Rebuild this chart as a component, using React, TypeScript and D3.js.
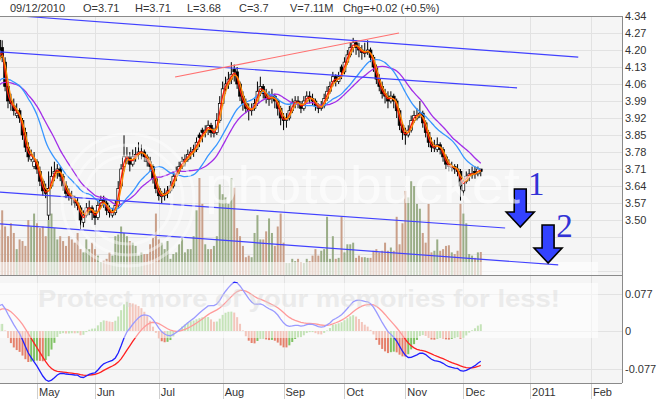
import React, { useEffect, useRef } from 'react';
import * as d3 from 'd3';

// daily sessions 14 Apr 2010 .. 9 Dec 2010, prices
const priorCloses = [3.84, 3.85, 3.83, 3.86, 3.87, 3.86, 3.88, 3.89, 3.88, 3.9, 3.91, 3.9, 3.92, 3.93, 3.92, 3.94, 3.95, 3.96, 3.95, 3.97,
  3.98, 4.0, 4.01, 3.99, 4.02, 4.03, 4.01, 4.04, 4.05, 4.03, 4.06, 4.05, 4.04, 4.07, 4.06, 4.08, 4.05, 4.07, 4.1, 4.16];

const opens = [4.24, 4.21, 4.15, 4.05, 3.99, 3.97, 3.93, 3.95, 3.91, 3.86,
  3.8, 3.75, 3.72, 3.74, 3.7, 3.66, 3.63, 3.52, 3.64, 3.69,
  3.7, 3.71, 3.68, 3.64, 3.61, 3.6, 3.58, 3.57, 3.55, 3.49,
  3.52, 3.55, 3.55, 3.53, 3.51, 3.56, 3.58, 3.57, 3.54, 3.52,
  3.53, 3.56, 3.64, 3.72, 3.76, 3.76, 3.73, 3.76, 3.77, 3.78,
  3.78, 3.76, 3.74, 3.72, 3.67, 3.63, 3.6, 3.6, 3.61, 3.62,
  3.64, 3.68, 3.7, 3.72, 3.74, 3.75, 3.77, 3.78, 3.79, 3.85,
  3.87, 3.86, 3.87, 3.89, 3.86, 3.86, 3.91, 3.98, 4.04, 4.06,
  4.08, 4.12, 4.11, 4.06, 4.01, 3.98, 3.96, 3.95, 3.96, 3.98,
  4.03, 4.05, 4.02, 4.0, 4.0, 4.01, 3.99, 3.96, 3.92, 3.91,
  3.92, 3.95, 3.98, 3.99, 3.98, 3.96, 3.99, 4.01, 4.0, 3.99,
  3.97, 3.96, 3.97, 4.0, 4.03, 4.07, 4.09, 4.07, 4.13, 4.11,
  4.15, 4.18, 4.21, 4.23, 4.21, 4.2, 4.19, 4.19, 4.2, 4.17,
  4.13, 4.08, 4.05, 4.02, 4.01, 3.99, 4.01, 3.99, 3.95, 3.89,
  3.86, 3.85, 3.87, 3.91, 3.92, 3.93, 3.94, 3.9, 3.86, 3.82,
  3.8, 3.79, 3.81, 3.79, 3.76, 3.73, 3.72, 3.72, 3.71, 3.7,
  3.62, 3.66, 3.68, 3.69, 3.7, 3.69, 3.71];

const highs = [4.26, 4.24, 4.17, 4.07, 4.02, 4.0, 3.98, 3.96, 3.92, 3.88,
  3.82, 3.79, 3.78, 3.75, 3.72, 3.67, 3.65, 3.7, 3.72, 3.74,
  3.73, 3.72, 3.69, 3.66, 3.63, 3.62, 3.6, 3.59, 3.56, 3.54,
  3.57, 3.58, 3.56, 3.54, 3.58, 3.6, 3.6, 3.58, 3.56, 3.55,
  3.58, 3.66, 3.73, 3.85, 3.8, 3.78, 3.79, 3.8, 3.82, 3.81,
  3.79, 3.77, 3.76, 3.73, 3.68, 3.64, 3.62, 3.63, 3.64, 3.66,
  3.7, 3.72, 3.74, 3.76, 3.77, 3.79, 3.8, 3.81, 3.84, 3.86,
  3.88, 3.89, 3.91, 3.9, 3.88, 3.94, 4.01, 4.07, 4.09, 4.11,
  4.15, 4.14, 4.13, 4.07, 4.03, 4.0, 3.98, 3.98, 4.0, 4.07,
  4.09, 4.06, 4.04, 4.03, 4.04, 4.02, 4.0, 3.97, 3.94, 3.94,
  3.97, 4.0, 4.01, 4.01, 3.99, 4.01, 4.03, 4.03, 4.02, 4.0,
  3.98, 3.99, 4.02, 4.05, 4.07, 4.11, 4.1, 4.11, 4.14, 4.17,
  4.2, 4.23, 4.25, 4.24, 4.23, 4.22, 4.23, 4.24, 4.21, 4.18,
  4.14, 4.1, 4.07, 4.04, 4.03, 4.03, 4.02, 4.0, 3.96, 3.9,
  3.88, 3.89, 3.93, 3.95, 3.96, 3.99, 3.95, 3.91, 3.87, 3.84,
  3.83, 3.84, 3.82, 3.8, 3.77, 3.75, 3.74, 3.73, 3.73, 3.71,
  3.67, 3.7, 3.71, 3.72, 3.72, 3.72, 3.71];

const lows = [4.14, 4.15, 4.03, 3.96, 3.95, 3.93, 3.92, 3.9, 3.83, 3.78,
  3.74, 3.74, 3.71, 3.69, 3.64, 3.6, 3.59, 3.5, 3.63, 3.66,
  3.67, 3.66, 3.62, 3.59, 3.58, 3.56, 3.55, 3.54, 3.46, 3.47,
  3.51, 3.52, 3.5, 3.48, 3.5, 3.55, 3.55, 3.52, 3.51, 3.51,
  3.52, 3.55, 3.63, 3.7, 3.73, 3.7, 3.72, 3.74, 3.75, 3.75,
  3.74, 3.72, 3.7, 3.65, 3.61, 3.58, 3.57, 3.58, 3.59, 3.61,
  3.63, 3.66, 3.69, 3.71, 3.72, 3.74, 3.75, 3.76, 3.78, 3.8,
  3.82, 3.84, 3.85, 3.84, 3.84, 3.85, 3.9, 3.97, 4.02, 4.04,
  4.06, 4.07, 4.04, 3.99, 3.95, 3.94, 3.91, 3.93, 3.95, 3.97,
  4.01, 4.0, 3.98, 3.97, 3.98, 3.96, 3.93, 3.89, 3.87, 3.88,
  3.91, 3.94, 3.96, 3.96, 3.94, 3.95, 3.98, 3.98, 3.97, 3.95,
  3.94, 3.95, 3.96, 3.99, 4.02, 4.05, 4.05, 4.06, 4.08, 4.1,
  4.14, 4.17, 4.19, 4.18, 4.17, 4.16, 4.17, 4.18, 4.15, 4.11,
  4.06, 4.03, 4.0, 3.98, 3.96, 3.98, 3.96, 3.92, 3.87, 3.83,
  3.81, 3.84, 3.86, 3.9, 3.91, 3.92, 3.88, 3.84, 3.8, 3.78,
  3.78, 3.78, 3.77, 3.74, 3.71, 3.7, 3.7, 3.69, 3.68, 3.58,
  3.6, 3.65, 3.66, 3.67, 3.67, 3.68, 3.68];

const closes = [4.2, 4.17, 4.05, 3.99, 3.98, 3.95, 3.94, 3.92, 3.85, 3.8,
  3.76, 3.77, 3.74, 3.71, 3.66, 3.62, 3.61, 3.63, 3.68, 3.7,
  3.71, 3.68, 3.64, 3.61, 3.6, 3.59, 3.57, 3.56, 3.5, 3.52,
  3.55, 3.55, 3.53, 3.51, 3.56, 3.58, 3.57, 3.54, 3.53, 3.53,
  3.56, 3.63, 3.71, 3.76, 3.76, 3.73, 3.76, 3.77, 3.78, 3.78,
  3.76, 3.74, 3.72, 3.67, 3.63, 3.6, 3.6, 3.61, 3.62, 3.64,
  3.68, 3.7, 3.72, 3.74, 3.75, 3.77, 3.78, 3.79, 3.82, 3.84,
  3.86, 3.87, 3.89, 3.86, 3.86, 3.91, 3.98, 4.04, 4.06, 4.08,
  4.1, 4.11, 4.06, 4.01, 3.98, 3.96, 3.95, 3.96, 3.98, 4.03,
  4.05, 4.02, 4.0, 4.0, 4.01, 3.99, 3.96, 3.92, 3.91, 3.92,
  3.95, 3.98, 3.99, 3.98, 3.96, 3.99, 4.01, 4.0, 3.99, 3.97,
  3.96, 3.97, 4.0, 4.03, 4.05, 4.09, 4.07, 4.09, 4.11, 4.15,
  4.18, 4.21, 4.23, 4.21, 4.2, 4.19, 4.19, 4.2, 4.17, 4.13,
  4.08, 4.05, 4.02, 4.01, 3.99, 4.01, 3.99, 3.95, 3.89, 3.86,
  3.85, 3.87, 3.91, 3.93, 3.93, 3.94, 3.9, 3.86, 3.82, 3.8,
  3.8, 3.81, 3.79, 3.76, 3.73, 3.72, 3.72, 3.71, 3.7, 3.64,
  3.66, 3.68, 3.69, 3.69, 3.69, 3.71, 3.7];

// millions of shares
const volumes = [14, 20, 15, 12, 16, 13, 8, 11, 10.5, 9, 17, 15, 19, 16, 14.5, 15, 12, 17, 19, 14.5, 11, 12, 10.5, 9, 12, 11, 10, 13,
  8, 7, 11, 8, 10, 8, 6, 4, 4.5, 5, 7, 6, 12, 12.5, 15, 13, 12, 10.5, 10, 9, 6, 7, 6.5, 6.5, 9.5, 11.5, 19, 11, 10, 8,
  10.5, 5, 6.5, 7, 9.5, 11.5, 7, 8, 8, 12, 20, 30, 22, 9.5, 8, 8, 9, 12, 28, 25, 24, 22, 30, 27, 14.5, 12, 9, 5.5,
  6, 5.5, 13, 18.5, 11, 11, 13.5, 17.5, 13, 9, 15, 19, 10, 3.7, 3.7, 5, 4.3, 5, 4, 3.7, 5, 4.3, 6, 8, 6, 7.5, 8, 18, 5,
  12, 5, 5.3, 18, 7, 9.5, 9.5, 10, 5.3, 6, 5.5, 5.5, 5.3, 5.3, 7.5, 8, 7, 7.5, 10, 7.5, 8.5, 7.5, 18,
  9.5, 16, 26, 24, 29, 27.5, 22, 20.5, 13, 10, 22, 7, 7.5, 11, 7.5, 8, 9, 9.2, 7, 6.5, 7.5, 22, 19, 16, 6.5, 6, 5.3, 7, 7.11];

const priceTicks = [4.34, 4.27, 4.2, 4.13, 4.06, 3.99, 3.92, 3.85, 3.78, 3.71, 3.64, 3.57, 3.5];
const extraGrid = [3.43, 3.36, 3.29];
const macdTicks = [0.077, 0, -0.077];
const monthLabels = ['May', 'Jun', 'Jul', 'Aug', 'Sep', 'Oct', 'Nov', 'Dec', '2011', 'Feb'];
const monthStarts = [13, 33, 55, 77, 98, 119, 140, 160, 183, 204]; // session index of 1st trading day
const headerItems = ['09/12/2010', 'O=3.71', 'H=3.71', 'L=3.68', 'C=3.7', 'V=7.11M', 'Chg=+0.02 (+0.5%)'];

// hand drawn annotations, in (session index, price)
const channelLines = [[7.1, 4.34, 199.6, 4.171], [0.2, 4.192, 178.5, 4.044], [0.2, 3.615, 174.4, 3.467], [0.2, 3.484, 192.7, 3.315]];
const redLine = [60.6, 4.089, 137.8, 4.27];
const arrowTips = [[179.6, 3.471], [189.2, 3.323]];
const arrowLabels = ['1', '2'];
const arrowLabelPos = [[182.3, 3.603], [192.0, 3.43]];

export default function App() {
  const svgRef = useRef<SVGSVGElement>(null);

  useEffect(() => {
    const svg = d3.select(svgRef.current);
    svg.selectAll('*').remove();
    const font = '"Liberation Sans", Arial, sans-serif';
    const L = 0, R = 622, T = 16, MB = 275, BB = 383;
    const n = closes.length;
    const idx = d3.range(n);

    const x = d3.scaleLinear().domain([13, 204]).range([37, 591]);
    const y = d3.scaleLinear().domain([3.5, 4.34]).range([220, 16]);
    const yVol = d3.scaleLinear().domain([0, 30]).range([MB, 178]);
    const yMacd = d3.scaleLinear().domain([-0.077, 0.077]).range([368.5, 293.5]);

    // indicators
    const all = priorCloses.concat(closes);
    const off = priorCloses.length;
    const sma = (k: number) => closes.map((_, i) => d3.mean(all.slice(i + off - k + 1, i + off + 1)) as number);
    const ema = (arr: number[], k: number) => {
      const a = 2 / (k + 1);
      const out: number[] = [];
      arr.forEach((v, i) => out.push(i === 0 ? v : v * a + out[i - 1] * (1 - a)));
      return out;
    };
    const e12 = ema(all, 12), e26 = ema(all, 26);
    const macdAll = all.map((_, i) => e12[i] - e26[i]);
    const sigAll = ema(macdAll, 9);
    const histAll = macdAll.map((m, i) => m - sigAll[i]);
    const macd = macdAll.slice(off), signal = sigAll.slice(off), hist = histAll.slice(off);
    const hMax = d3.max(hist, (h) => Math.abs(h)) as number;
    const yHist = d3.scaleLinear().domain([-hMax, hMax]).range([yMacd(0) + 31, yMacd(0) - 31]);

    svg.append('rect').attr('width', 659).attr('height', 399).attr('fill', '#fff');
    svg.append('rect').attr('x', L).attr('y', T).attr('width', R - L).attr('height', BB - T).attr('fill', '#f5f5f5');

    const defs = svg.append('defs');
    defs.append('clipPath').attr('id', 'clipMain').append('rect')
      .attr('x', L).attr('y', T).attr('width', R - L).attr('height', MB - T);
    defs.append('clipPath').attr('id', 'clipMacd').append('rect')
      .attr('x', L).attr('y', MB).attr('width', R - L).attr('height', BB - MB);

    // grid
    const grid = svg.append('g').attr('stroke', '#e2e2e2').attr('stroke-width', 1);
    priceTicks.concat(extraGrid).forEach((p) => {
      const yy = Math.round(y(p)) + 0.5;
      grid.append('line').attr('x1', L).attr('x2', R).attr('y1', yy).attr('y2', yy);
    });
    macdTicks.forEach((m) => {
      const yy = Math.round(yMacd(m)) + 0.5;
      grid.append('line').attr('x1', L).attr('x2', R).attr('y1', yy).attr('y2', yy);
    });
    monthStarts.forEach((m) => {
      const xx = Math.round(x(m)) + 0.5;
      grid.append('line').attr('x1', xx).attr('x2', xx).attr('y1', T).attr('y2', BB);
      svg.append('line').attr('x1', xx).attr('x2', xx).attr('y1', BB).attr('y2', 399)
        .attr('stroke', '#cfcfcf');
    });

    const main = svg.append('g').attr('clip-path', 'url(#clipMain)');

    // volume
    main.append('g').selectAll('rect').data(idx).enter().append('rect')
      .attr('x', (i) => x(i) - 1)
      .attr('width', 2)
      .attr('y', (i) => yVol(volumes[i]))
      .attr('height', (i) => MB - yVol(volumes[i]))
      .attr('fill', (i) => (closes[i] >= opens[i] ? '#9aad87' : '#c99f89'));
    main.append('rect').attr('x', 0).attr('y', 262).attr('width', 598).attr('height', 13)
      .attr('fill', '#fff').attr('opacity', 0.6);

    // candles
    const candles = main.append('g');
    candles.selectAll('line').data(idx).enter().append('line')
      .attr('x1', (i) => x(i)).attr('x2', (i) => x(i))
      .attr('y1', (i) => y(highs[i])).attr('y2', (i) => y(lows[i]))
      .attr('stroke', '#000').attr('stroke-width', 1);
    candles.selectAll('rect').data(idx).enter().append('rect')
      .attr('x', (i) => x(i) - 1.4)
      .attr('width', 2.8)
      .attr('y', (i) => y(Math.max(opens[i], closes[i])))
      .attr('height', (i) => Math.max(1, Math.abs(y(opens[i]) - y(closes[i]))))
      .attr('fill', (i) => (closes[i] >= opens[i] ? '#fff' : '#000'))
      .attr('stroke', '#000').attr('stroke-width', 0.7);

    // moving averages
    const maLine = d3.line<number>().x((_, i) => x(i)).y((v) => y(v)).curve(d3.curveMonotoneX);
    const maDefs: [number, string][] = [[20, '#a22ee8'], [15, '#3896ff'], [2, '#ff1a00'], [3, '#ff8a00']];
    maDefs.forEach(([k, c]) => {
      main.append('path').attr('d', maLine(sma(k)) as string)
        .attr('fill', 'none').attr('stroke', c).attr('stroke-width', 1.3);
    });

    // annotations
    channelLines.forEach(([i0, p0, i1, p1]) => {
      main.append('line').attr('x1', x(i0)).attr('y1', y(p0)).attr('x2', x(i1)).attr('y2', y(p1))
        .attr('stroke', '#4141ff').attr('stroke-width', 1.2);
    });
    main.append('line').attr('x1', x(redLine[0])).attr('y1', y(redLine[1]))
      .attr('x2', x(redLine[2])).attr('y2', y(redLine[3]))
      .attr('stroke', '#ff6f6f').attr('stroke-width', 1.1);

    arrowTips.forEach(([i, p], k) => {
      const tx = x(i), ty = y(p);
      const pts = [[tx, ty], [tx - 14, ty - 15], [tx - 6, ty - 15], [tx - 6, ty - 38], [tx + 6, ty - 38], [tx + 6, ty - 15], [tx + 14, ty - 15]];
      main.append('path').attr('d', 'M' + pts.map((q) => q.join(',')).join('L') + 'Z')
        .attr('fill', '#3342ff').attr('stroke', '#000').attr('stroke-width', 1.6).attr('stroke-linejoin', 'miter');
      main.append('text').attr('x', x(arrowLabelPos[k][0])).attr('y', y(arrowLabelPos[k][1]))
        .attr('font-family', '"Liberation Serif", "Times New Roman", serif').attr('font-size', 33)
        .attr('fill', '#3232d6').text(arrowLabels[k]);
    });

    // photobucket overlay
    const wm = main.append('g').attr('fill', 'none').attr('stroke', '#fff').attr('opacity', 0.45);
    [44, 55, 66].forEach((r) => wm.append('circle').attr('cx', 128).attr('cy', 200).attr('r', r).attr('stroke-width', 3));
    main.append('text').attr('x', 205).attr('y', 203).attr('font-family', font).attr('font-size', 52)
      .attr('textLength', 315).attr('lengthAdjust', 'spacingAndGlyphs')
      .attr('fill', '#fff').attr('opacity', 0.6).text('photobucket');

    // MACD panel
    const mp = svg.append('g').attr('clip-path', 'url(#clipMacd)');
    mp.append('g').selectAll('rect').data(idx).enter().append('rect')
      .attr('x', (i) => x(i) - 1)
      .attr('width', 2)
      .attr('y', (i) => Math.min(yHist(hist[i]), yHist(0)))
      .attr('height', (i) => Math.abs(yHist(hist[i]) - yHist(0)))
      .attr('fill', (i) => (hist[i] >= histAll[off + i - 1] ? '#7fc263' : '#e5806b'));
    const mLine = d3.line<number>().x((_, i) => x(i)).y((v) => yMacd(v));
    mp.append('path').attr('d', mLine(signal) as string).attr('fill', 'none').attr('stroke', '#ff2020').attr('stroke-width', 1.3);
    mp.append('path').attr('d', mLine(macd) as string).attr('fill', 'none').attr('stroke', '#2020ff').attr('stroke-width', 1.3);
    mp.append('rect').attr('x', 0).attr('y', 283).attr('width', 598).attr('height', 55)
      .attr('fill', '#fff').attr('opacity', 0.55);
    mp.append('text').attr('x', 38).attr('y', 307).attr('font-family', font).attr('font-size', 24)
      .attr('font-weight', 'bold').attr('textLength', 522).attr('lengthAdjust', 'spacingAndGlyphs')
      .attr('fill', '#d8d8d8').attr('opacity', 0.45).text('Protect more of your memories for less!');

    // borders
    const border = svg.append('g').attr('stroke', '#8a8a8a').attr('stroke-width', 1);
    border.append('line').attr('x1', L).attr('x2', R).attr('y1', T + 0.5).attr('y2', T + 0.5);
    border.append('line').attr('x1', L).attr('x2', R).attr('y1', MB + 0.5).attr('y2', MB + 0.5);
    border.append('line').attr('x1', L).attr('x2', R).attr('y1', BB + 0.5).attr('y2', BB + 0.5);
    border.append('line').attr('x1', R + 0.5).attr('x2', R + 0.5).attr('y1', T).attr('y2', BB);

    // axis labels
    const lab = svg.append('g').attr('font-family', font).attr('font-size', 11).attr('fill', '#333');
    priceTicks.forEach((p) => lab.append('text').attr('x', 625).attr('y', y(p) + 4).text(p.toFixed(2)));
    macdTicks.forEach((m) => lab.append('text').attr('x', 625).attr('y', yMacd(m) + 4).text(m === 0 ? '0' : String(m)));
    monthStarts.forEach((m, k) => lab.append('text').attr('x', x(m) + 2).attr('y', 396).text(monthLabels[k]));

    const headerX = [10, 83, 135, 187, 239, 290, 343];
    headerItems.forEach((t, k) => lab.append('text').attr('x', headerX[k]).attr('y', 12).text(t));
  }, []);

  return (
    <div style={{ position: 'absolute', left: 0, top: 0 }}>
      <svg ref={svgRef} width={659} height={399} />
    </div>
  );
}
